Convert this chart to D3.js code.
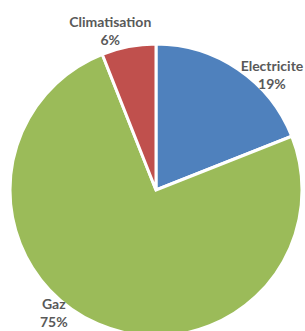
<!DOCTYPE html>
<html>
<head>
<meta charset="utf-8">
<script src="https://cdn.jsdelivr.net/npm/d3@7/dist/d3.min.js"></script>
<style>
html,body{margin:0;padding:0;background:#fff;}
svg{display:block;}
</style>
</head>
<body>
<svg id="chart" width="305" height="331"></svg>
<script>
const categories = ["Electricite", "Gaz", "Climatisation"];
const values = [19, 75, 6];
const percentLabels = ["19%", "75%", "6%"];
const colors = ["#4F81BD", "#9BBB59", "#C0504D"];
// label placement (angle in degrees clockwise from top, distance from center)
const labelAngles = [45, 220, -16];
const labelDists = [164, 159, 166];

const W = 305, H = 331;
const cx = 156, cy = 190, R = 146;

const svg = d3.select("#chart");
const g = svg.append("g").attr("transform", `translate(${cx},${cy})`);

const pie = d3.pie().sort(null).value(d => d.value);
const data = categories.map((c, i) => ({ name: c, value: values[i], pct: percentLabels[i], color: colors[i], la: labelAngles[i], ld: labelDists[i] }));
const arcs = pie(data);
const arc = d3.arc().innerRadius(0).outerRadius(R);

g.selectAll("path.slice").data(arcs).enter().append("path")
  .attr("class", "slice")
  .attr("d", arc)
  .attr("fill", d => d.data.color)
  .attr("stroke", "#fff")
  .attr("stroke-width", 3)
  .attr("stroke-linejoin", "miter");

const lbl = g.selectAll("g.lbl").data(arcs).enter().append("g")
  .attr("class", "lbl")
  .attr("transform", d => {
    const a = d.data.la * Math.PI / 180;
    return `translate(${Math.sin(a) * d.data.ld},${-Math.cos(a) * d.data.ld})`;
  });
lbl.append("text")
  .attr("text-anchor", "middle")
  .attr("y", -3)
  .attr("font-family", "Lato, 'Open Sans', sans-serif")
  .attr("font-weight", "bold")
  .attr("font-size", 14)
  .attr("fill", "#595959")
  .text(d => d.data.name);
lbl.append("text")
  .attr("text-anchor", "middle")
  .attr("y", 15)
  .attr("font-family", "Lato, 'Open Sans', sans-serif")
  .attr("font-weight", "bold")
  .attr("font-size", 14)
  .attr("fill", "#595959")
  .text(d => d.data.pct);
</script>
</body>
</html>
